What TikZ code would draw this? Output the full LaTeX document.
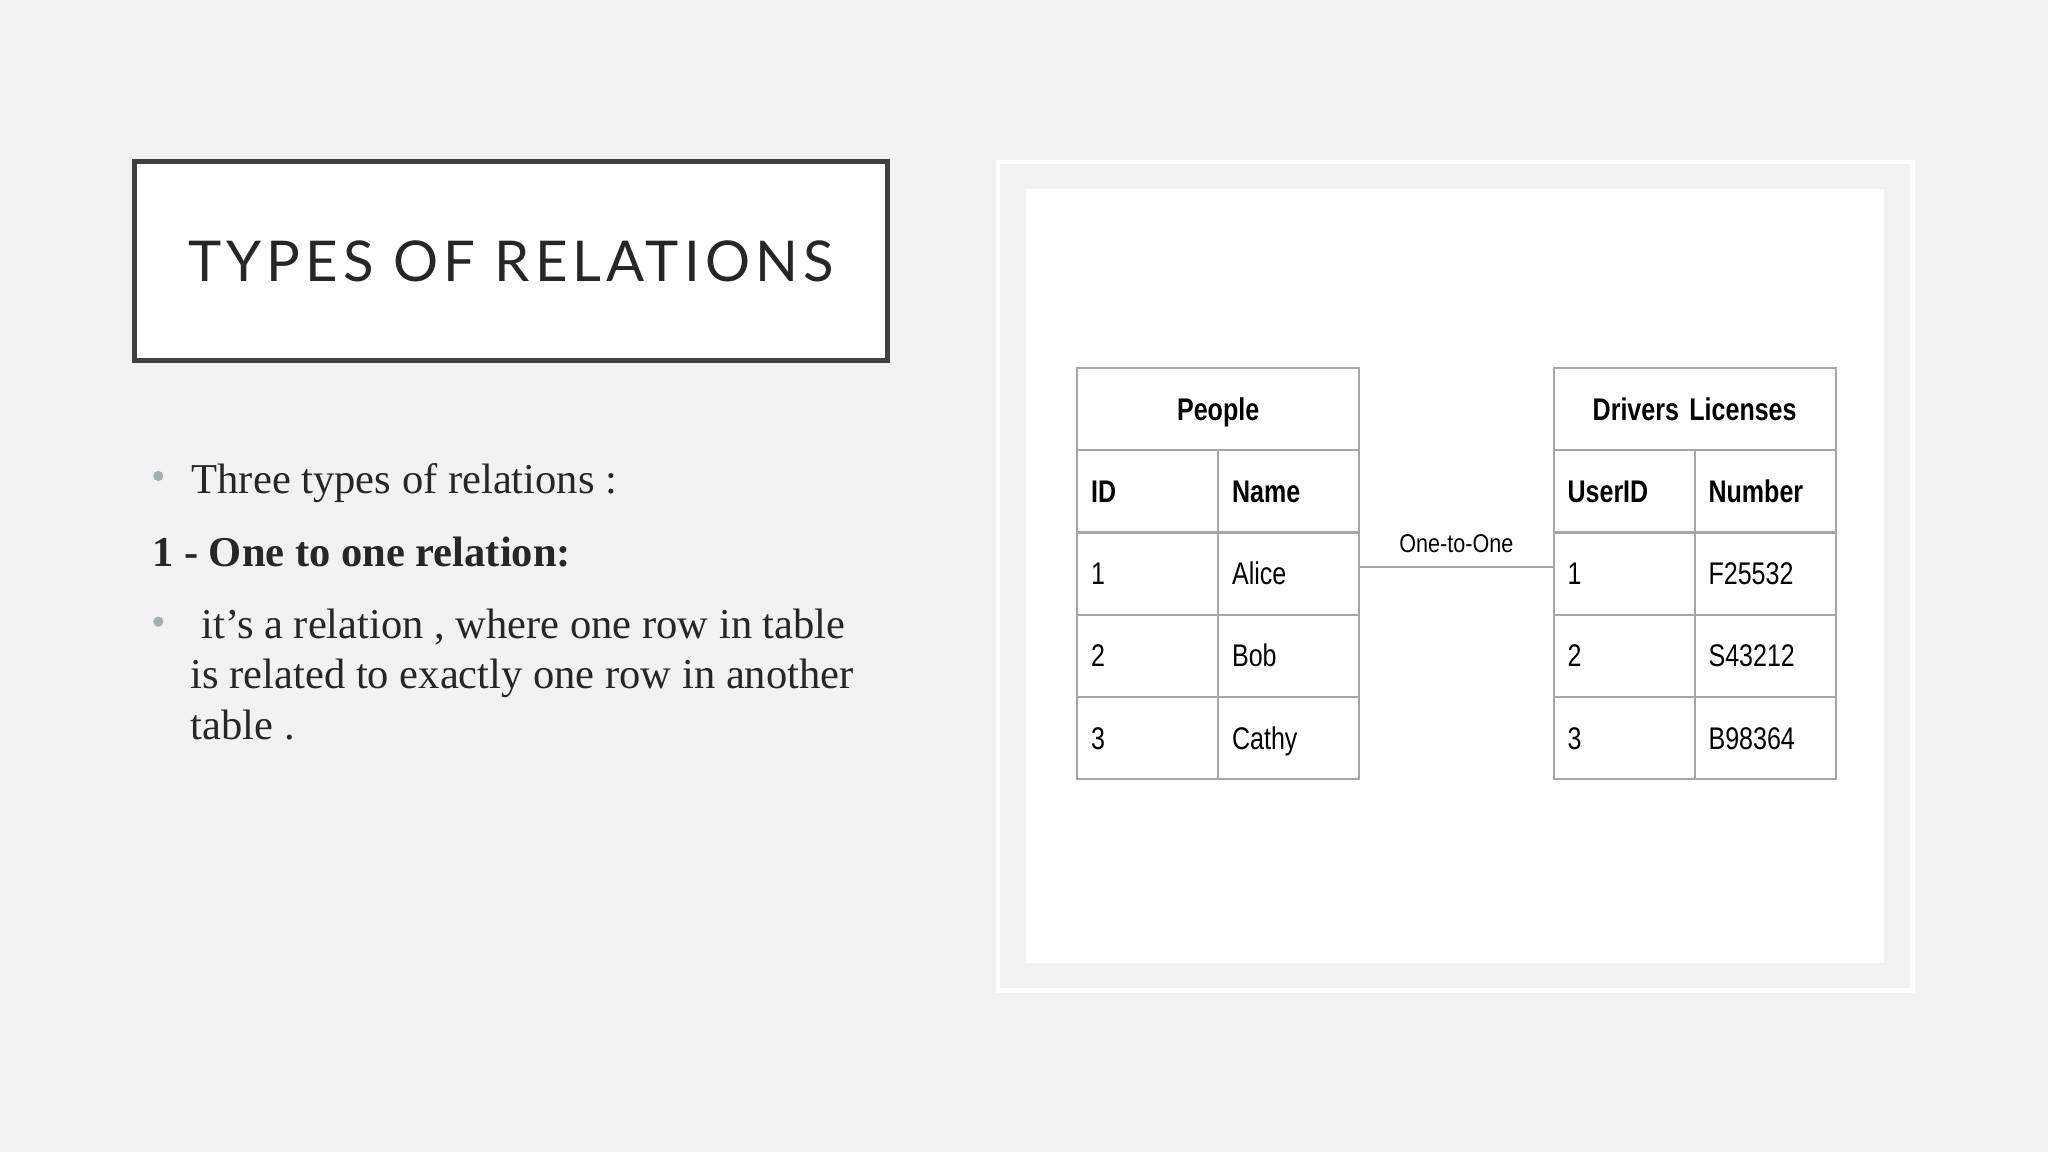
\documentclass[tikz,border=0pt]{standalone}
\usepackage{fontspec}
\setmainfont{Liberation Serif}
\newfontfamily\titlefont[LetterSpace=9]{Lato}
\newfontfamily\tabfont[FakeStretch=0.8]{Liberation Sans}
\newfontfamily\lblfont[FakeStretch=0.84]{Liberation Sans}
\usepackage{tikz}
\usetikzlibrary{calc}
\definecolor{slidebg}{HTML}{F2F2F2}
\definecolor{boxline}{HTML}{404040}
\definecolor{inkgray}{HTML}{262626}
\definecolor{dotgray}{HTML}{A3ADB2}
\definecolor{tabline}{HTML}{A6A6A6}
\tikzset{
  txt/.style={anchor=base west, inner sep=0, text=inkgray, font=\fontsize{12.1pt}{14.4pt}\selectfont},
  cell/.style={draw=tabline, line width=0.6pt, anchor=north west, minimum height=0.822cm, text width=1.13cm,
    inner xsep=0.14cm, inner ysep=0pt, align=left, text height=6.3pt, text depth=0pt,
    font=\tabfont\fontsize{8.9pt}{10pt}\selectfont},
  colhead/.style={cell, font=\tabfont\bfseries\fontsize{8.9pt}{10pt}\selectfont},
  headcell/.style={colhead, text width=2.54cm, align=center},
}

\begin{document}
\begin{tikzpicture}[x=0.01cm, y=-0.01cm]
\useasboundingbox (0,0) rectangle (2048,1152);
\fill[slidebg] (0,0) rectangle (2048,1152);
\node[draw=boxline, line width=0.05cm, fill=white, minimum width=7.52cm, minimum height=1.99cm, text=inkgray,
  text height=11.5pt, text depth=0pt, font=\titlefont\fontsize{16pt}{18pt}\selectfont] (title) at (511,261.4) {TYPES OF RELATIONS};
\fill[dotgray] (158.3,476) circle (1.45pt);
\node[txt] (b1) at (191,494) {Three types of relations :};
\node[txt, font=\bfseries\fontsize{12.1pt}{14.4pt}\selectfont] (onetoone) at (151.5,567) {1 - One to one relation:};
\fill[dotgray] (158.3,621.7) circle (1.45pt);
\node[txt] (b2a) at (201,638.3) {it’s a relation , where one row in table};
\node[txt] (b2b) at (190,689) {is related to exactly one row in another};
\node[txt] (b2c) at (190,739.5) {table .};
\draw[white, line width=0.045cm] (998,162) rectangle (1912.5,990.5);
\fill[white] (1026,189) rectangle (1884,963);
\node[headcell] (people) at (1076,367) {People};
\node[colhead] (pidh) at (1076,449.2) {ID};
\node[colhead] (pnmh) at (1217,449.2) {Name};
\foreach \r/\a/\b in {1/1/Alice,2/2/Bob,3/3/Cathy} {
  \node[cell] (pid\r) at (1076,{449.2+82.2*\r}) {\a};
  \node[cell] (pnm\r) at (1217,{449.2+82.2*\r}) {\b};
}
\node[headcell] (drivers) at (1552.5,367) {Drivers Licenses};
\node[colhead] (didh) at (1552.5,449.2) {UserID};
\node[colhead] (dnumh) at (1693.5,449.2) {Number};
\foreach \r/\a/\b in {1/1/F25532,2/2/S43212,3/3/B98364} {
  \node[cell] (did\r) at (1552.5,{449.2+82.2*\r}) {\a};
  \node[cell] (dnum\r) at (1693.5,{449.2+82.2*\r}) {\b};
}
\draw[tabline, line width=0.6pt] ([yshift=0.065cm]pnm1.east) -- ([yshift=0.065cm]did1.west)
  node[midway, above, inner sep=0.13cm, text=black, font=\lblfont\fontsize{7.3pt}{8pt}\selectfont] (rel) {One-to-One};
\end{tikzpicture}
\end{document}
